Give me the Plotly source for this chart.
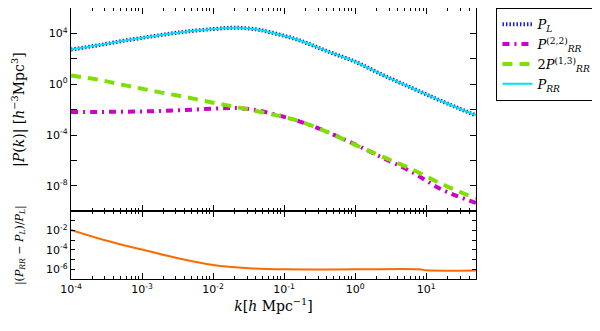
import plotly.graph_objects as go
from plotly.subplots import make_subplots

# --------------------------------------------------
#   values
# --------------------------------------------------
k = [1e-4, 2.5e-4, 6.3e-4, 1.6e-3, 4.0e-3, 1e-2, 2.0e-2, 4.0e-2,
     6.3e-2, 0.16, 0.4, 1.0, 2.5, 6.3, 16.0, 50.0]

P_L = [5.4e2, 1.2e3, 3.0e3, 6.6e3, 1.35e4, 2.2e4, 2.8e4, 2.1e4,
       1.25e4, 3.0e3, 4.0e2, 5.9e1, 5.0, 5.0e-1, 5.0e-2, 3.5e-3]

P_22 = [6.6e-3, 6.6e-3, 6.9e-3, 7.6e-3, 9.3e-3, 1.2e-2, 1.35e-2, 9.3e-3,
        5.2e-3, 1.26e-3, 1.8e-4, 1.8e-5, 1.5e-6, 1.2e-7, 5.6e-9, 4.5e-10]

P_13x2 = [4.8, 2.2, 0.74, 0.26, 0.1, 3.5e-2, 1.7e-2, 7.9e-3,
          4.7e-3, 1.26e-3, 1.8e-4, 1.7e-5, 1.8e-6, 2.0e-7, 1.5e-8, 1.0e-9]

P_RR = [5.4e2, 1.2e3, 3.0e3, 6.6e3, 1.35e4, 2.2e4, 2.8e4, 2.1e4,
        1.25e4, 3.0e3, 4.0e2, 5.9e1, 5.0, 5.0e-1, 5.0e-2, 3.5e-3]

k_ratio = [1e-4, 3.2e-4, 1e-3, 3.2e-3, 1e-2, 3.2e-2, 0.1, 1.0, 8.0, 10.0, 50.0]
ratio = [1.2e-2, 9e-4, 1.1e-4, 1.4e-5, 2.8e-6, 1.3e-6, 1.0e-6, 1.0e-6,
         1.0e-6, 7.8e-7, 7.6e-7]

x_major = [-4, -3, -2, -1, 0, 1]
y_top_major = [-10, -8, -6, -4, -2, 0, 2, 4, 6]
y_top_labelled = [-8, -4, 0, 4]
y_bot_major = [-7, -6, -5, -4, -3, -2, -1, 0]
y_bot_labelled = [-6, -4, -2]

# --------------------------------------------------
#   plotting
# --------------------------------------------------
fig = make_subplots(rows=2, cols=1, shared_xaxes=True, vertical_spacing=0,
                    row_heights=[0.75, 0.25])

fig.add_trace(go.Scatter(x=k, y=P_L, mode='lines', name='<i>P<sub>L</sub></i>',
                         line=dict(color='#1a1ad8', width=4, dash='1.5px,2px', shape='spline')),
              row=1, col=1)
fig.add_trace(go.Scatter(x=k, y=P_22, mode='lines',
                         name='<i>P</i><sup>(2,2)</sup><sub><i>RR</i></sub>',
                         line=dict(color='#cc00cc', width=4, dash='7px,5px,2px,5px', shape='spline')),
              row=1, col=1)
fig.add_trace(go.Scatter(x=k, y=P_13x2, mode='lines',
                         name='2<i>P</i><sup>(1,3)</sup><sub><i>RR</i></sub>',
                         line=dict(color='#7fe000', width=4, dash='10px,7px', shape='spline')),
              row=1, col=1)
fig.add_trace(go.Scatter(x=k, y=P_RR, mode='lines', name='<i>P<sub>RR</sub></i>',
                         line=dict(color='#00e0f0', width=2, shape='spline')), row=1, col=1)
fig.add_trace(go.Scatter(x=k_ratio, y=ratio, mode='lines', showlegend=False,
                         line=dict(color='#ff6a00', width=2, shape='spline')), row=2, col=1)

def minor_vals(lo, hi):
    return [m * 10 ** d for d in range(lo, hi) for m in range(2, 10)]

axis_common = dict(type='log', showline=True, linecolor='black', linewidth=1.2,
                   mirror='ticks', ticks='inside', ticklen=6, tickcolor='black',
                   showgrid=False, zeroline=False, automargin=False,
                   tickfont=dict(family='DejaVu Sans', size=11, color='black'))

fig.update_xaxes(**axis_common, range=[-4, 1.7],
                 tickvals=[10 ** e for e in x_major],
                 ticktext=['10<sup>%d</sup>' % e for e in x_major],
                 minor=dict(ticks='inside', ticklen=3, tickcolor='black',
                            tickmode='array', tickvals=minor_vals(-4, 2)))
fig.update_xaxes(showticklabels=False, row=1, col=1)
fig.update_xaxes(title=dict(text='<i>k</i>[<i>h</i> Mpc<sup>−1</sup>]',
                            font=dict(family='DejaVu Serif', size=14, color='black'),
                            standoff=4), row=2, col=1)

fig.update_yaxes(**axis_common)
fig.update_yaxes(range=[-10, 6], row=1, col=1,
                 tickvals=[10 ** e for e in y_top_major],
                 ticktext=['10<sup>%d</sup>' % e if e in y_top_labelled else ''
                           for e in y_top_major],
                 title=dict(text='|<i>P</i>(<i>k</i>)| [<i>h</i><sup>−3</sup>Mpc<sup>3</sup>]',
                            font=dict(family='DejaVu Serif', size=14, color='black'),
                            standoff=18))
fig.update_yaxes(range=[-7, 0], row=2, col=1,
                 tickvals=[10 ** e for e in y_bot_major],
                 ticktext=['10<sup>%d</sup>' % e if e in y_bot_labelled else ''
                           for e in y_bot_major],
                 ticklen=4,
                 title=dict(text='|(<i>P<sub>RR</sub></i> − <i>P<sub>L</sub></i>)/<i>P<sub>L</sub></i>|',
                            font=dict(family='DejaVu Serif', size=11, color='black'),
                            standoff=20))

# the page body keeps an 8px margin, so the margins are shifted to compensate
fig.update_layout(
    width=600, height=331,
    margin=dict(l=63, r=132, t=0, b=60, autoexpand=False),
    paper_bgcolor='white', plot_bgcolor='white',
    legend=dict(x=1.05, y=1.0, xanchor='left', yanchor='top',
                bordercolor='black', borderwidth=1.2, bgcolor='white',
                font=dict(family='DejaVu Serif', size=13, color='black'),
                tracegroupgap=0, itemwidth=30),
)

fig.write_html("out.html")
